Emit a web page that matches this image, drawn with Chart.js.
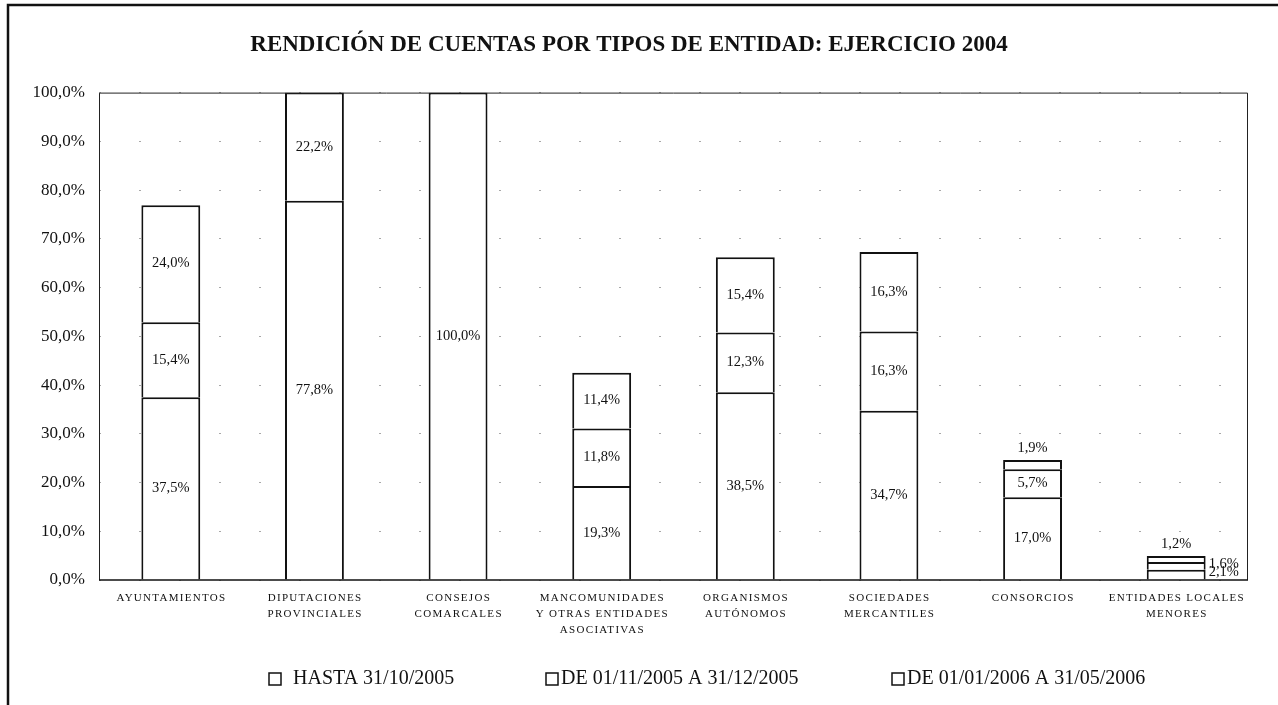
<!DOCTYPE html>
<html>
<head>
<meta charset="utf-8">
<script src="https://cdn.jsdelivr.net/npm/chart.js@4.4.1/dist/chart.umd.min.js"></script>
<style>
  html, body { margin: 0; padding: 0; background: #fff; }
  #wrap { width: 1278px; height: 705px; position: relative; }
</style>
</head>
<body>
<div id="wrap"><canvas id="c"></canvas></div>
<script>
// ---- data ----
const categories = [
  ["AYUNTAMIENTOS"],
  ["DIPUTACIONES", "PROVINCIALES"],
  ["CONSEJOS", "COMARCALES"],
  ["MANCOMUNIDADES", "Y OTRAS ENTIDADES", "ASOCIATIVAS"],
  ["ORGANISMOS", "AUTÓNOMOS"],
  ["SOCIEDADES", "MERCANTILES"],
  ["CONSORCIOS"],
  ["ENTIDADES LOCALES", "MENORES"]
];
const seriesNames = ["HASTA 31/10/2005", "DE 01/11/2005 A 31/12/2005", "DE 01/01/2006 A 31/05/2006"];
const hasta31Oct = [37.5, 77.8, 100.0, 19.3, 38.5, 34.7, 17.0, 2.1];
const nov05Dic05 = [15.4, 0, 0, 11.8, 12.3, 16.3, 5.7, 1.6];
const ene06May06 = [24.0, 22.2, 0, 11.4, 15.4, 16.3, 1.9, 1.2];
const yTickValues = [0, 10, 20, 30, 40, 50, 60, 70, 80, 90, 100];
const titleText = "RENDICIÓN DE CUENTAS POR TIPOS DE ENTIDAD: EJERCICIO 2004";

// label placement for tiny segments: key "dataset-index"
const labelPlacement = { "2-6": "above", "2-7": "above", "1-7": "right", "0-7": "right" };
// legend item layout (style only)
const legendBoxX = [269, 546, 892];
const legendTextGap = [12, 3, 3];
const legendY = 679;

const fmt = v => v.toFixed(1).replace('.', ',') + '%';
const SERIF = "'Liberation Serif', 'Times New Roman', serif";

const seriesData = [hasta31Oct, nov05Dic05, ene06May06];
const datasets = seriesData.map((d, i) => ({
  label: seriesNames[i],
  data: d,
  backgroundColor: '#ffffff',
  borderColor: '#111111',
  borderWidth: 2,
  categoryPercentage: 1.0,
  barPercentage: 0.41
}));

const framePlugin = {
  id: 'frame',
  afterDraw(chart) {
    const ctx = chart.ctx;
    const a = chart.chartArea;
    ctx.save();
    // plot box
    ctx.strokeStyle = '#222';
    ctx.lineWidth = 1;
    ctx.beginPath();
    ctx.moveTo(a.left + 0.5, a.bottom);
    ctx.lineTo(a.left + 0.5, a.top + 0.5);
    ctx.lineTo(a.right - 0.5, a.top + 0.5);
    ctx.lineTo(a.right - 0.5, a.bottom);
    ctx.stroke();
    ctx.lineWidth = 1.5;
    ctx.strokeStyle = '#111';
    ctx.beginPath();
    ctx.moveTo(a.left, a.bottom);
    ctx.lineTo(a.right, a.bottom);
    ctx.stroke();
    // outer page frame (top and left)
    ctx.strokeStyle = '#111';
    ctx.lineWidth = 2.5;
    ctx.beginPath();
    ctx.moveTo(1278, 5);
    ctx.lineTo(8, 5);
    ctx.lineTo(8, 705);
    ctx.stroke();

    // category labels (letter-spaced), placed through the x scale
    const xs = chart.scales.x;
    ctx.fillStyle = '#111';
    ctx.font = "11px " + SERIF;
    ctx.letterSpacing = '1.3px';
    ctx.textAlign = 'center';
    ctx.textBaseline = 'middle';
    chart.data.labels.forEach((lines, i) => {
      const x = xs.getPixelForTick(i) + 0.65;
      lines.forEach((t, k) => ctx.fillText(t, x, a.bottom + 18 + k * 16));
    });
    ctx.letterSpacing = '0px';

    // legend
    ctx.font = "20px " + SERIF;
    ctx.textAlign = 'left';
    chart.data.datasets.forEach((ds, i) => {
      const bx = legendBoxX[i];
      ctx.fillStyle = '#fff';
      ctx.strokeStyle = '#111';
      ctx.lineWidth = 1.5;
      ctx.fillRect(bx, legendY - 6, 12, 12);
      ctx.strokeRect(bx, legendY - 6, 12, 12);
      ctx.fillStyle = '#111';
      ctx.fillText(ds.label, bx + 12 + legendTextGap[i], legendY);
    });
    ctx.restore();
  }
};

const valueLabels = {
  id: 'valueLabels',
  afterDatasetsDraw(chart) {
    const ctx = chart.ctx;
    ctx.save();
    ctx.font = "14.5px " + SERIF;
    ctx.fillStyle = '#111';
    chart.data.datasets.forEach((ds, di) => {
      const meta = chart.getDatasetMeta(di);
      meta.data.forEach((el, i) => {
        const v = ds.data[i];
        if (!v) return;
        const p = el.getProps(['x', 'y', 'base', 'width'], true);
        const place = labelPlacement[di + '-' + i];
        const top = Math.min(p.y, p.base), bot = Math.max(p.y, p.base);
        if (place === 'above') {
          ctx.textAlign = 'center'; ctx.textBaseline = 'bottom';
          ctx.fillText(fmt(v), p.x, top - 5);
        } else if (place === 'right') {
          ctx.textAlign = 'left'; ctx.textBaseline = 'middle';
          ctx.fillText(fmt(v), p.x + p.width / 2 + 3, (top + bot) / 2 - 2);
        } else {
          ctx.textAlign = 'center'; ctx.textBaseline = 'middle';
          ctx.fillText(fmt(v), p.x, (top + bot) / 2);
        }
      });
    });
    ctx.restore();
  }
};

new Chart(document.getElementById('c'), {
  type: 'bar',
  data: { labels: categories, datasets },
  plugins: [valueLabels, framePlugin],
  options: {
    responsive: true,
    maintainAspectRatio: false,
    animation: false,
    layout: { padding: { left: 10, right: 30, top: 20, bottom: 40 } },
    plugins: {
      title: {
        display: true,
        text: titleText,
        color: '#111',
        font: { family: SERIF, size: 23, weight: 'bold' },
        padding: { top: 11, bottom: 34 }
      },
      legend: { display: false },
      tooltip: { enabled: false }
    },
    scales: {
      x: {
        stacked: true,
        grid: { display: false },
        border: { display: false },
        ticks: { display: false },
        afterFit(scale) { scale.height = 85; }
      },
      y: {
        stacked: true,
        min: 0,
        max: 100,
        afterBuildTicks(scale) { scale.ticks = yTickValues.map(v => ({ value: v })); },
        ticks: {
          color: '#111',
          font: { family: SERIF, size: 17 },
          padding: 14,
          callback: v => fmt(v)
        },
        grid: { color: '#a8a8a8', lineWidth: 1, drawTicks: false },
        border: { display: false, dash: [2, 38] },
        afterFit(scale) { scale.width = 89; }
      }
    }
  }
});
</script>
</body>
</html>
